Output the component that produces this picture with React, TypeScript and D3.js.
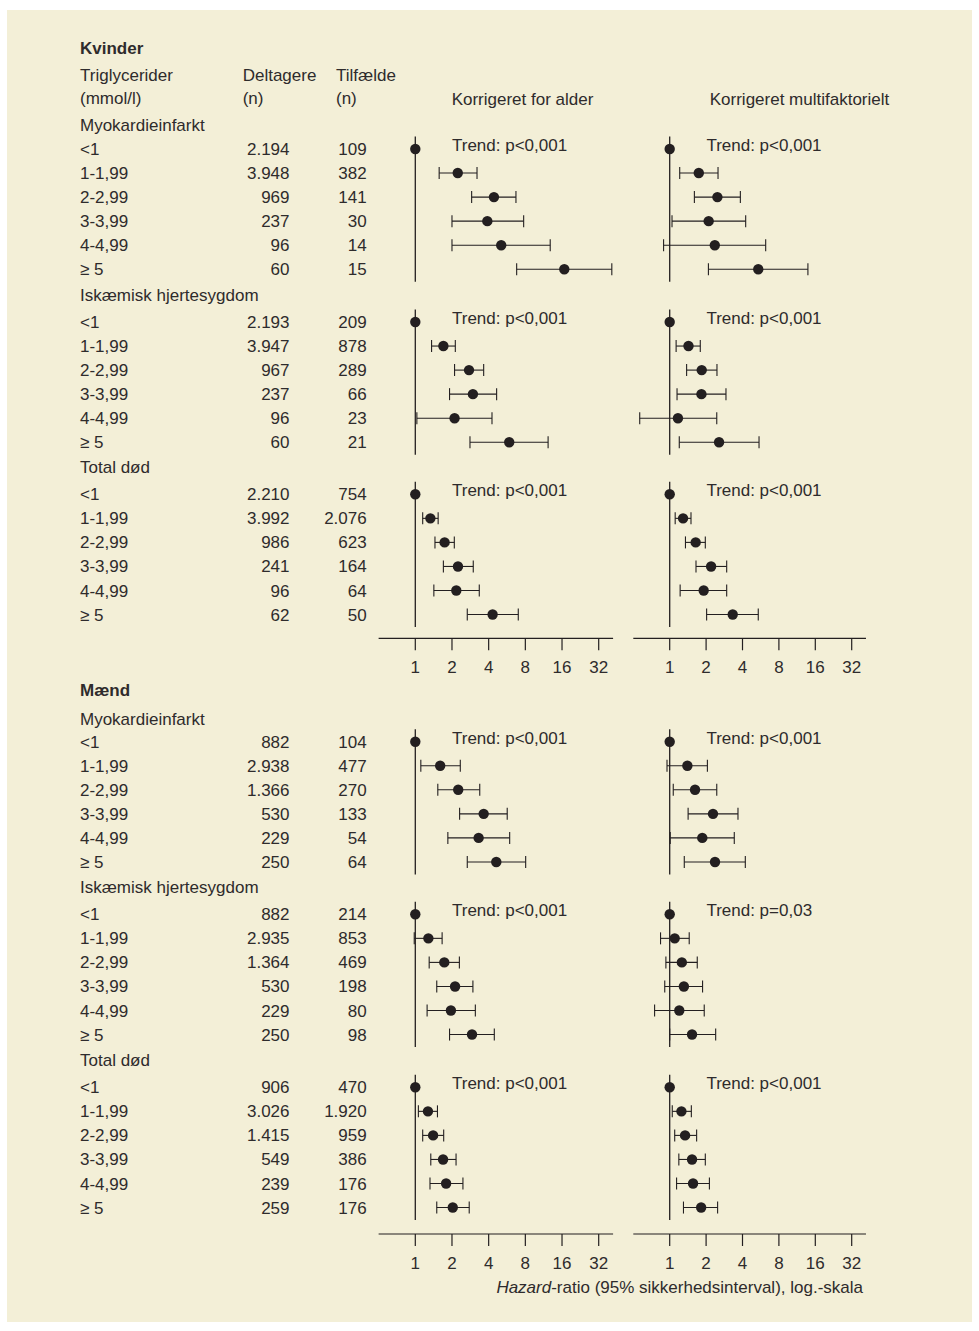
import React from "react";
import * as d3 from "d3";

const W = 979;
const H = 1331;
const FONT = "'Liberation Sans', Arial, Helvetica, sans-serif";
const INK = "#231f20";
const TEXT = "#2e2b2c";
const BG = "#f3efd7";

// ---- data ----
const categories = ["<1", "1-1,99", "2-2,99", "3-3,99", "4-4,99", "\u2265 5"];
const outcomes = ["Myokardieinfarkt", "Iskæmisk hjertesygdom", "Total død"];
const groups = ["Kvinder", "Mænd"];
const panelTitles = ["Korrigeret for alder", "Korrigeret multifaktorielt"];
const tickValues = [1, 2, 4, 8, 16, 32];

const kvinderDeltagere = [
  ["2.194", "3.948", "969", "237", "96", "60"],
  ["2.193", "3.947", "967", "237", "96", "60"],
  ["2.210", "3.992", "986", "241", "96", "62"],
];
const kvinderTilfaelde = [
  ["109", "382", "141", "30", "14", "15"],
  ["209", "878", "289", "66", "23", "21"],
  ["754", "2.076", "623", "164", "64", "50"],
];
const maendDeltagere = [
  ["882", "2.938", "1.366", "530", "229", "250"],
  ["882", "2.935", "1.364", "530", "229", "250"],
  ["906", "3.026", "1.415", "549", "239", "259"],
];
const maendTilfaelde = [
  ["104", "477", "270", "133", "54", "64"],
  ["214", "853", "469", "198", "80", "98"],
  ["470", "1.920", "959", "386", "176", "176"],
];

// hazard ratios (first row = reference, no interval)
const kvinderAlderEst = [
  [1, 2.23, 4.42, 3.9, 5.07, 16.7],
  [1, 1.7, 2.76, 2.97, 2.1, 5.9],
  [1, 1.33, 1.74, 2.24, 2.17, 4.31],
];
const kvinderAlderLo = [
  [null, 1.57, 2.9, 2.0, 2.0, 6.79],
  [null, 1.36, 2.1, 1.91, 1.03, 2.81],
  [null, 1.15, 1.45, 1.7, 1.42, 2.67],
];
const kvinderAlderHi = [
  [null, 3.21, 6.7, 7.75, 12.8, 41],
  [null, 2.13, 3.64, 4.65, 4.26, 12.3],
  [null, 1.54, 2.09, 2.99, 3.35, 7.0],
];
const kvinderMultiEst = [
  [1, 1.74, 2.48, 2.1, 2.36, 5.4],
  [1, 1.43, 1.84, 1.83, 1.17, 2.56],
  [1, 1.29, 1.64, 2.2, 1.91, 3.32],
];
const kvinderMultiLo = [
  [null, 1.21, 1.6, 1.045, 0.89, 2.09],
  [null, 1.13, 1.38, 1.15, 0.565, 1.2],
  [null, 1.11, 1.35, 1.65, 1.22, 2.02],
];
const kvinderMultiHi = [
  [null, 2.51, 3.84, 4.25, 6.22, 13.9],
  [null, 1.79, 2.46, 2.92, 2.45, 5.48],
  [null, 1.5, 1.97, 2.96, 2.96, 5.4],
];
const maendAlderEst = [
  [1, 1.6, 2.25, 3.64, 3.31, 4.62],
  [1, 1.28, 1.73, 2.12, 1.96, 2.92],
  [1, 1.27, 1.4, 1.69, 1.79, 2.03],
];
const maendAlderLo = [
  [null, 1.11, 1.53, 2.31, 1.85, 2.67],
  [null, 0.98, 1.3, 1.5, 1.25, 1.91],
  [null, 1.06, 1.15, 1.34, 1.32, 1.5],
];
const maendAlderHi = [
  [null, 2.34, 3.38, 5.68, 5.95, 8.05],
  [null, 1.66, 2.3, 2.97, 3.11, 4.45],
  [null, 1.52, 1.71, 2.16, 2.46, 2.77],
];
const maendMultiEst = [
  [1, 1.4, 1.62, 2.28, 1.86, 2.37],
  [1, 1.1, 1.26, 1.31, 1.2, 1.53],
  [1, 1.25, 1.34, 1.53, 1.56, 1.82],
];
const maendMultiLo = [
  [null, 0.95, 1.07, 1.42, 1.01, 1.32],
  [null, 0.84, 0.93, 0.91, 0.75, 1.0],
  [null, 1.05, 1.1, 1.19, 1.14, 1.3],
];
const maendMultiHi = [
  [null, 2.05, 2.45, 3.67, 3.42, 4.22],
  [null, 1.45, 1.69, 1.87, 1.93, 2.4],
  [null, 1.51, 1.67, 1.97, 2.13, 2.49],
];
const kvinderTrendAlder = ["Trend: p<0,001", "Trend: p<0,001", "Trend: p<0,001"];
const kvinderTrendMulti = ["Trend: p<0,001", "Trend: p<0,001", "Trend: p<0,001"];
const maendTrendAlder = ["Trend: p<0,001", "Trend: p<0,001", "Trend: p<0,001"];
const maendTrendMulti = ["Trend: p<0,001", "Trend: p=0,03", "Trend: p<0,001"];

// ---- layout ----
const FS = 17;
const ROW = 24.05;
const groupTop = [48, 690];
const sectionRow0 = [
  [149, 322, 494.3],
  [741.7, 914.3, 1087.3],
];
const sectionHeaderY = [
  [125, 294.5, 467],
  [719, 887, 1060],
];
const axisY = [638.3, 1234];

const xPanels = [
  d3.scaleLog().base(2).domain([1, 32]).range([415.3, 598.7]),
  d3.scaleLog().base(2).domain([1, 32]).range([669.7, 851.7]),
];

const T = ({ x, y, children, anchor = "start", weight = "normal", style = "normal" }: any) => (
  <text
    x={x}
    y={y + 6}
    textAnchor={anchor}
    fontWeight={weight}
    fontStyle={style}
    fontFamily={FONT}
    fontSize={FS}
    fill={TEXT}
  >
    {children}
  </text>
);

function Panel({ x, y0, est, lo, hi, trend }: any) {
  const yTop = y0 - 12.5;
  const yBot = y0 + 5 * ROW + 12.5;
  const x1 = x(1);
  return (
    <g>
      <line x1={x1} x2={x1} y1={yTop} y2={yBot} stroke={INK} strokeWidth={1.3} />
      {est.map((e: number, i: number) => {
        const y = y0 + i * ROW;
        return (
          <g key={i}>
            {lo[i] != null && (
              <g stroke={INK} strokeWidth={1.1}>
                <line x1={x(lo[i])} x2={x(hi[i])} y1={y} y2={y} />
                <line x1={x(lo[i])} x2={x(lo[i])} y1={y - 6} y2={y + 6} />
                <line x1={x(hi[i])} x2={x(hi[i])} y1={y - 6} y2={y + 6} />
              </g>
            )}
            <circle cx={x(e)} cy={y} r={5.2} fill={INK} />
          </g>
        );
      })}
      <T x={x1 + 36.7} y={y0 - 4}>{trend}</T>
    </g>
  );
}

function Axis({ x, y }: any) {
  return (
    <g>
      <line x1={x(0.5)} x2={x(42)} y1={y} y2={y} stroke={INK} strokeWidth={1.2} />
      {tickValues.map((t) => (
        <g key={t}>
          <line x1={x(t)} x2={x(t)} y1={y} y2={y + 12} stroke={INK} strokeWidth={1.2} />
          <T x={x(t)} y={y + 28.5} anchor="middle">{String(t)}</T>
        </g>
      ))}
    </g>
  );
}

export default function App() {
  const groupData = [
    {
      deltagere: kvinderDeltagere,
      tilfaelde: kvinderTilfaelde,
      panels: [
        { est: kvinderAlderEst, lo: kvinderAlderLo, hi: kvinderAlderHi, trend: kvinderTrendAlder },
        { est: kvinderMultiEst, lo: kvinderMultiLo, hi: kvinderMultiHi, trend: kvinderTrendMulti },
      ],
    },
    {
      deltagere: maendDeltagere,
      tilfaelde: maendTilfaelde,
      panels: [
        { est: maendAlderEst, lo: maendAlderLo, hi: maendAlderHi, trend: maendTrendAlder },
        { est: maendMultiEst, lo: maendMultiLo, hi: maendMultiHi, trend: maendTrendMulti },
      ],
    },
  ];

  return (
    <svg
      width={W}
      height={H}
      style={{ position: "absolute", left: 0, top: 0, background: "#ffffff" }}
    >
      <rect x={7} y={10} width={965} height={1312} fill={BG} />

      {/* column headers */}
      <T x={80} y={75}>Triglycerider</T>
      <T x={80} y={98}>(mmol/l)</T>
      <T x={242.7} y={75}>Deltagere</T>
      <T x={242.7} y={98}>(n)</T>
      <T x={336} y={75}>Tilfælde</T>
      <T x={336} y={98}>(n)</T>
      <T x={522.5} y={99} anchor="middle">{panelTitles[0]}</T>
      <T x={799.5} y={99} anchor="middle">{panelTitles[1]}</T>

      {groups.map((g, gi) => (
        <g key={g}>
          <T x={80} y={groupTop[gi]} weight="bold">{g}</T>
          {outcomes.map((o, si) => {
            const y0 = sectionRow0[gi][si];
            const gd = groupData[gi];
            return (
              <g key={o}>
                <T x={80} y={sectionHeaderY[gi][si]}>{o}</T>
                {categories.map((c, ri) => (
                  <g key={c}>
                    <T x={80} y={y0 + ri * ROW}>{c}</T>
                    <T x={289.5} y={y0 + ri * ROW} anchor="end">{gd.deltagere[si][ri]}</T>
                    <T x={366.7} y={y0 + ri * ROW} anchor="end">{gd.tilfaelde[si][ri]}</T>
                  </g>
                ))}
                {gd.panels.map((p, pi) => (
                  <Panel
                    key={pi}
                    x={xPanels[pi]}
                    y0={y0}
                    est={p.est[si]}
                    lo={p.lo[si]}
                    hi={p.hi[si]}
                    trend={p.trend[si]}
                  />
                ))}
              </g>
            );
          })}
          {xPanels.map((x, pi) => (
            <Axis key={pi} x={x} y={axisY[gi]} />
          ))}
        </g>
      ))}

      <text
        x={863}
        y={1286.7 + 6}
        textAnchor="end"
        fontFamily={FONT}
        fontSize={FS}
        fill={TEXT}
      >
        <tspan fontStyle="italic">Hazard</tspan>
        <tspan>-ratio (95% sikkerhedsinterval), log.-skala</tspan>
      </text>
    </svg>
  );
}
